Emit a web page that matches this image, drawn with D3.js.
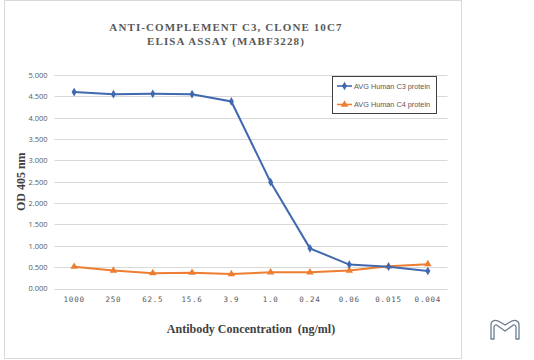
<!DOCTYPE html>
<html><head><meta charset="utf-8">
<script src="https://cdn.jsdelivr.net/npm/d3@7"></script>
<style>body{margin:0;background:#fff}svg{display:block}</style>
</head><body>
<svg id="c" width="534" height="360"></svg>
<script>
const categories = ["1000","250","62.5","15.6","3.9","1.0","0.24","0.06","0.015","0.004"];
const c3Values = [4.60, 4.55, 4.56, 4.55, 4.38, 2.49, 0.94, 0.56, 0.51, 0.41];
const c4Values = [0.51, 0.42, 0.36, 0.37, 0.34, 0.38, 0.38, 0.42, 0.52, 0.57];
const yTicks = [0,0.5,1,1.5,2,2.5,3,3.5,4,4.5,5];
const seriesNames = ["AVG Human C3 protein","AVG Human C4 protein"];
const titleLines = ["ANTI-COMPLEMENT C3, CLONE 10C7","ELISA ASSAY (MABF3228)"];

const svg = d3.select("#c");
const blue = "#4169b0", orange = "#ed7d31", grid = "#d9d9d9", txt = "#595959";

// outer frame
svg.append("rect").attr("x",4.5).attr("y",0.5).attr("width",457).attr("height",358)
  .attr("fill","#fff").attr("stroke","#d9d9d9");

const L = 54.5, R = 447.5, T = 75, B = 288.5;
const x = d3.scaleBand().domain(categories).range([L,R]);
const y = d3.scaleLinear().domain([0,5]).range([B,T]);

// gridlines
svg.append("g").selectAll("line").data(yTicks).join("line")
  .attr("x1",L).attr("x2",R).attr("y1",d=>Math.round(y(d))+0.5).attr("y2",d=>Math.round(y(d))+0.5)
  .attr("stroke",grid).attr("stroke-width",1);

// y axis labels
const yAxis = svg.append("g").attr("transform",`translate(${L},0)`)
  .call(d3.axisLeft(y).tickValues(yTicks).tickFormat(d3.format(".3f")).tickSize(0).tickPadding(7));
yAxis.select(".domain").remove();
yAxis.selectAll("text").attr("font-family","Open Sans, sans-serif").attr("font-size",7.5).attr("fill",txt);

// x axis labels
const xAxis = svg.append("g").attr("transform",`translate(0,${B})`)
  .call(d3.axisBottom(x).tickSize(0).tickPadding(8));
xAxis.select(".domain").remove();
xAxis.selectAll("text").attr("font-family","DejaVu Sans Mono, monospace").attr("font-size",7.5)
  .attr("fill",txt).attr("letter-spacing",0.8);

// title
svg.append("text").attr("x",226).attr("y",31).attr("text-anchor","middle")
  .attr("font-family","Liberation Serif, serif").attr("font-weight","bold").attr("font-size",11)
  .attr("letter-spacing",1.1).attr("fill",txt).text(titleLines[0]);
svg.append("text").attr("x",226).attr("y",45).attr("text-anchor","middle")
  .attr("font-family","Liberation Serif, serif").attr("font-weight","bold").attr("font-size",11)
  .attr("letter-spacing",1.1).attr("fill",txt).text(titleLines[1]);

// axis titles
svg.append("text").attr("transform",`translate(25,${(T+B)/2}) rotate(-90)`).attr("text-anchor","middle")
  .attr("font-family","Liberation Serif, serif").attr("font-weight","bold").attr("font-size",12)
  .attr("fill","#404040").text("OD 405 nm");
svg.append("text").attr("x",251).attr("y",333).attr("text-anchor","middle")
  .attr("font-family","Liberation Serif, serif").attr("font-weight","bold").attr("font-size",12)
  .attr("fill","#404040").attr("xml:space","preserve").text("Antibody Concentration  (ng/ml)");

const cx = d => x(d) + x.bandwidth()/2;
const line = d3.line().x((d,i)=>cx(categories[i])).y(d=>y(d));

const diamond = d3.symbol().type(d3.symbolDiamond).size(22);
const tri = d3.symbol().type(d3.symbolTriangle).size(24);

function drawSeries(vals,color,sym){
  svg.append("path").datum(vals).attr("d",line).attr("fill","none").attr("stroke",color).attr("stroke-width",2);
  svg.append("g").selectAll("path").data(vals).join("path")
    .attr("transform",(d,i)=>`translate(${cx(categories[i])},${y(d)})`)
    .attr("d",sym).attr("fill",color);
}
drawSeries(c4Values,orange,tri);
drawSeries(c3Values,blue,diamond);

// legend
const lg = svg.append("g");
lg.append("rect").attr("x",332.5).attr("y",76.5).attr("width",104).attr("height",37)
  .attr("fill","#fff").attr("stroke","#404040").attr("stroke-width",1);
[[blue,diamond],[orange,tri]].forEach((s,i)=>{
  const yy = 86 + i*18.5;
  lg.append("line").attr("x1",337).attr("x2",352).attr("y1",yy).attr("y2",yy).attr("stroke",s[0]).attr("stroke-width",1.6);
  lg.append("path").attr("transform",`translate(344.5,${yy})`).attr("d",s[1]).attr("fill",s[0]);
  lg.append("text").attr("x",354).attr("y",yy+2.7).attr("font-family","Liberation Sans, Arial, sans-serif")
    .attr("font-size",7.3).attr("fill",txt).text(seriesNames[i]);
});

// logo
svg.append("path").attr("d","M491,325 C491,320 496,319 500,322 L505,325 L510,322 C514,319 519,320 519,325 L519,339 L516,339 L516,327 C516,325 514,324 512,326 L505,331 L498,326 C496,324 494,325 494,327 L494,339 L491,339 Z")
  .attr("fill","none").attr("stroke","#6b7d8f").attr("stroke-width",1.3).attr("stroke-linejoin","round");
</script>
</body></html>
